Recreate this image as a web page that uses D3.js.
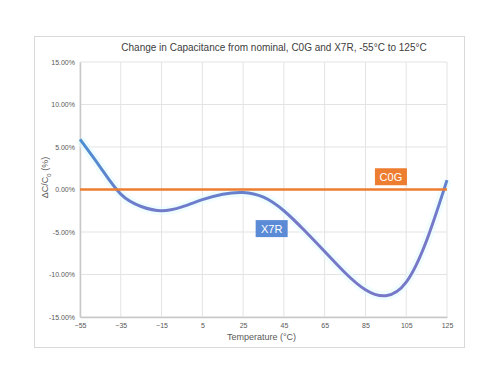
<!DOCTYPE html>
<html>
<head>
<meta charset="utf-8">
<script src="https://cdn.jsdelivr.net/npm/d3@7"></script>
<style>
  body { margin: 0; background: #fff; }
  text { font-family: "Liberation Sans", Arial, sans-serif; }
</style>
</head>
<body>
<div id="chart"></div>
<script>
// temperatures (°C) and X7R change in capacitance (%)
const temps = [-55, -45, -35, -25, -15, -5, 5, 15, 25, 35, 45, 55, 65, 75, 85, 95, 105, 115, 125];
const x7r = [5.9, 2.6, -0.55, -2.0, -2.5, -2.05, -1.2, -0.55, -0.35, -0.9, -2.5, -4.8, -7.3, -9.8, -11.8, -12.5, -10.9, -6.0, 1.1];
const c0g = [0, 0];
const c0gTemps = [-55, 125];
const xTicks = [-55, -35, -15, 5, 25, 45, 65, 85, 105, 125];
const yTicks = [-15, -10, -5, 0, 5, 10, 15];

const W = 499, H = 385;
const margin = { top: 62, right: 52, bottom: 68, left: 80 };
const width = W - margin.left - margin.right,
      height = H - margin.top - margin.bottom;

const svg = d3.select("#chart").append("svg")
    .attr("width", W).attr("height", H);

// outer chart border
svg.append("rect")
    .attr("x", 34.5).attr("y", 36.5)
    .attr("width", 430).attr("height", 311)
    .attr("fill", "none").attr("stroke", "#d9d9d9");

const g = svg.append("g").attr("transform", `translate(${margin.left},${margin.top})`);

const x = d3.scaleLinear().domain([-55, 125]).range([0, width]);
const y = d3.scaleLinear().domain([-15, 15]).range([height, 0]);

// gridlines
g.selectAll(".vgrid").data(xTicks).join("line")
    .attr("x1", d => x(d)).attr("x2", d => x(d))
    .attr("y1", 0).attr("y2", height)
    .attr("stroke", "#e3e3e3");
g.selectAll(".hgrid").data(yTicks).join("line")
    .attr("x1", 0).attr("x2", width)
    .attr("y1", d => y(d)).attr("y2", d => y(d))
    .attr("stroke", "#e3e3e3");

// axes
const xAxis = g.append("g")
    .attr("transform", `translate(0,${height})`)
    .call(d3.axisBottom(x).tickValues(xTicks).tickSize(0).tickPadding(6));
const yAxis = g.append("g")
    .call(d3.axisLeft(y).tickValues(yTicks).tickSize(0).tickPadding(5)
        .tickFormat(d => d.toFixed(2) + "%"));
[xAxis, yAxis].forEach(a => {
    a.select(".domain").attr("stroke", "#c8c8c8").attr("stroke-width", 1.5);
    a.selectAll("text").attr("fill", "#595959").style("font-size", "7px")
        .style("font-family", "'Liberation Sans', Arial, sans-serif");
});

// gradient for X7R: blue at top, purple lower down
const defs = svg.append("defs");
const grad = defs.append("linearGradient")
    .attr("id", "x7rGrad").attr("gradientUnits", "userSpaceOnUse")
    .attr("x1", 0).attr("x2", 0).attr("y1", y(6)).attr("y2", y(-4));
grad.append("stop").attr("offset", "0%").attr("stop-color", "#4a8fd2");
grad.append("stop").attr("offset", "100%").attr("stop-color", "#7878c9");

const line = d3.line()
    .x(d => x(d[0])).y(d => y(d[1]))
    .curve(d3.curveNatural);
const pts = temps.map((t, i) => [t, x7r[i]]);

// faint glow under the curve
g.append("path").datum(pts)
    .attr("d", line).attr("fill", "none")
    .attr("stroke", "#e6fbff").attr("stroke-width", 9)
    .attr("stroke-opacity", 0.6);
g.append("path").datum(pts)
    .attr("d", line).attr("fill", "none")
    .attr("stroke", "url(#x7rGrad)").attr("stroke-width", 3);

// C0G flat line
g.append("path").datum(c0gTemps.map((t, i) => [t, c0g[i]]))
    .attr("d", d3.line().x(d => x(d[0])).y(d => y(d[1])))
    .attr("fill", "none").attr("stroke", "#ed7d31").attr("stroke-width", 2.5);

// series labels
function tag(cx, cy, txt, fill) {
    const w = txt.length * 7 + 11, h = 17;
    g.append("rect").attr("x", cx - w / 2).attr("y", cy - h / 2)
        .attr("width", w).attr("height", h).attr("fill", fill);
    g.append("text").attr("x", cx).attr("y", cy + 4)
        .attr("text-anchor", "middle").attr("fill", "#fff")
        .style("font-size", "11px").text(txt);
}
tag(x(97.5), y(1.5), "C0G", "#ed7d31");
tag(x(39), y(-4.6), "X7R", "#5b8bd6");

// title
svg.append("text")
    .attr("x", 274).attr("y", 51)
    .attr("text-anchor", "middle").attr("fill", "#404040")
    .style("font-size", "10px")
    .text("Change in Capacitance from nominal, C0G and X7R, -55°C to 125°C");

// x axis title
svg.append("text")
    .attr("x", margin.left + width / 2 - 2).attr("y", 340)
    .attr("text-anchor", "middle").attr("fill", "#595959")
    .style("font-size", "9px")
    .text("Temperature (°C)");

// y axis title with subscript
const yt = svg.append("text")
    .attr("transform", `translate(48,${margin.top + height / 2 - 12}) rotate(-90)`)
    .attr("text-anchor", "middle").attr("fill", "#595959")
    .style("font-size", "9px");
yt.append("tspan").text("ΔC/C");
yt.append("tspan").attr("baseline-shift", "sub").style("font-size", "6px").text("0");
yt.append("tspan").text(" (%)");
</script>
</body>
</html>
